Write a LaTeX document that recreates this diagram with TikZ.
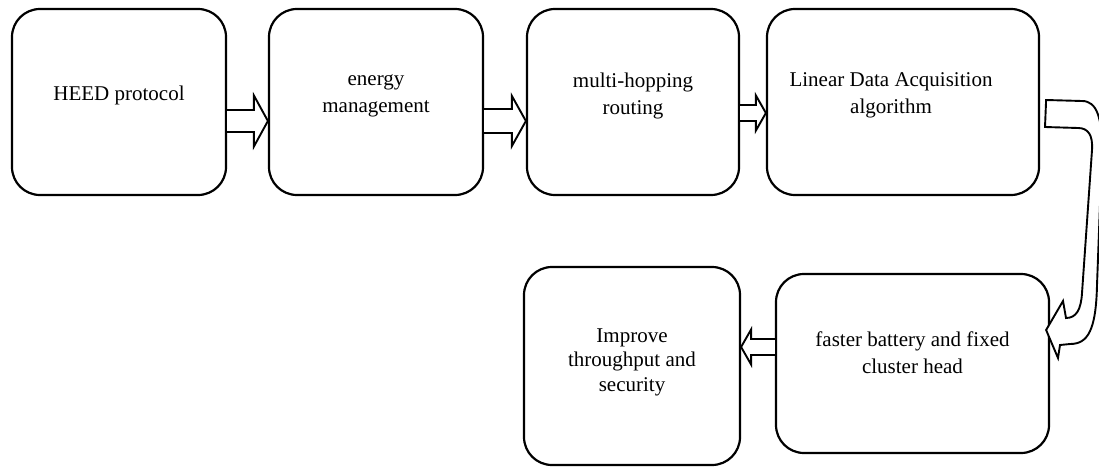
\documentclass[tikz,border=0pt]{standalone}
\usepackage{fontspec}
\setmainfont{Liberation Serif}
\usetikzlibrary{calc}
\tikzset{
  box/.style={draw, line width=2.2pt, rounded corners=28pt, inner sep=0pt},
  txt/.style={font=\fontsize{21}{27}\selectfont, align=center, inner sep=0pt,
    execute at begin node=\strut, execute at end node=\strut},
  arr/.style={draw, line width=1.9pt, fill=white},
}
% #1 from anchor, #2 to anchor, #3 axis y, #4 shaft half, #5 head half, #6 head length
\newcommand\blockarr[6]{%
  \coordinate (axisref) at (0,#3);
  \coordinate (arrS) at (#1 |- axisref);
  \coordinate (arrT) at (#2 |- axisref);
  \draw[arr] let \p1=(arrS), \p2=(arrT) in
    (\x1,\y1+#4pt) -- ({\x2-(#6pt)},\y1+#4pt) -- ({\x2-(#6pt)},\y1+#5pt) -- (\x2,\y1)
    -- ({\x2-(#6pt)},\y1-#5pt) -- ({\x2-(#6pt)},\y1-#4pt) -- (\x1,\y1-#4pt);}
\begin{document}
\begin{tikzpicture}[x=1pt,y=-1pt]
\useasboundingbox (0,0) rectangle (1099,468);
\clip (0,0) rectangle (1099,468);

\node[box, minimum width=214pt, minimum height=186pt] (b1) at (119,102) {};
\node[box, minimum width=214pt, minimum height=186pt] (b2) at (376,102) {};
\node[box, minimum width=212pt, minimum height=186pt] (b3) at (633,102) {};
\node[box, minimum width=272pt, minimum height=186pt] (b4) at (903,102) {};
\node[box, minimum width=273pt, minimum height=179pt] (b5) at (912.5,363.5) {};
\node[box, minimum width=216pt, minimum height=198pt] (b6) at (632,366) {};

\node[txt] (t1) at ([yshift=7.2pt]b1.center) {HEED protocol};
\node[txt] (t2) at ([yshift=4.7pt]b2.center) {energy\\management};
\node[txt] (t3) at ([yshift=4.7pt]b3.center) {multi-hopping\\routing};
\node[txt] (t4) at ([xshift=-12pt,yshift=4.7pt]b4.center) {Linear Data Acquisition\\algorithm};
\node[txt] (t5) at ([yshift=7.2pt]b5.center) {faster battery and fixed\\cluster head};
\node[txt, font=\fontsize{21}{24.5}\selectfont] (t6) at ([yshift=2.4pt]b6.center) {Improve\\throughput and\\security};

\blockarr{b1.east}{b2.west}{121}{11}{25.5}{14}
\blockarr{b2.east}{b3.west}{121}{12}{25}{14}
\blockarr{b3.east}{b4.west}{113}{8}{17.5}{10}
\blockarr{b5.west}{b6.east}{347}{8}{17.5}{-10}

% U-turn block arrow from b4 to b5
\coordinate (uref) at (0,100);
\coordinate (utref) at (0,330);
\coordinate (ua) at ([xshift=6pt]b4.east |- uref);
\coordinate (ut) at ([xshift=-4pt]b5.east |- utref);
\draw[arr] (ua) -- (1082,101) .. controls (1097,101) and (1102,118) .. (1102,150)
  -- (1097,285) .. controls (1096,330) and (1088,344) .. (1070,344)
  -- (1060,345) -- (1058,358) -- (ut) -- (1063,301) -- (1066,318)
  .. controls (1076,318) and (1081,310) .. (1082,293)
  -- (1092,150) .. controls (1093,135) and (1088,128) .. (1078,128)
  -- (1045,127) -- cycle;
\end{tikzpicture}
\end{document}
